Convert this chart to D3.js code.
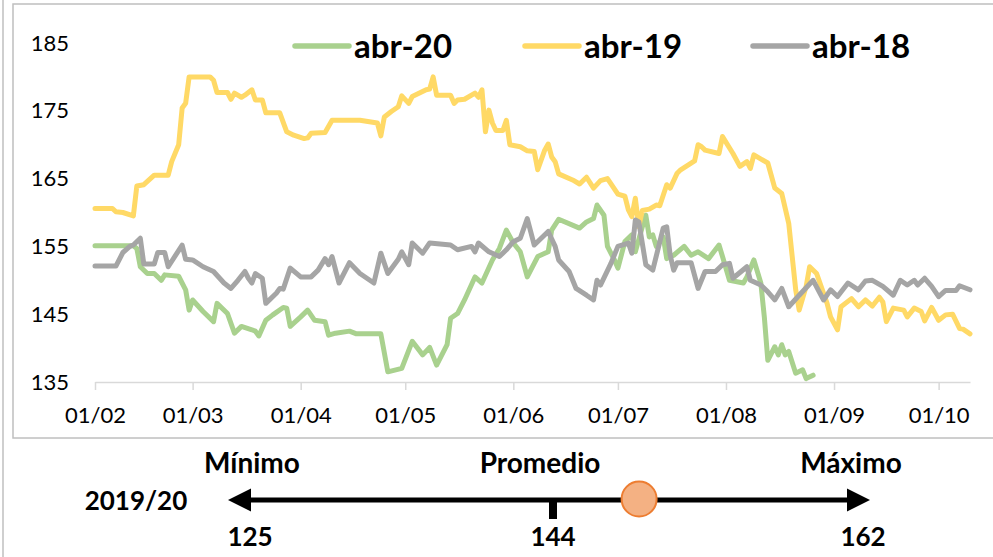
<!DOCTYPE html>
<html>
<head>
<meta charset="utf-8">
<script src="https://cdn.jsdelivr.net/npm/d3@7"></script>
<style>
  body { margin: 0; background: #fff; }
  svg { font-family: Lato, "Open Sans", sans-serif; }
</style>
</head>
<body>
<svg width="993" height="557"></svg>
<script>
// series (dates dd/mm, price)
const dates20 = ["01/02","12/02","13/02","14/02","16/02","18/02","20/02","21/02","25/02","27/02","28/02","01/03","04/03","07/03","08/03","11/03","13/03","15/03","18/03","19/03","20/03","22/03","24/03","27/03","28/03","29/03","01/04","03/04","05/04","08/04","09/04","11/04","15/04","17/04","24/04","26/04","30/04","03/05","06/05","08/05","10/05","13/05","14/05","16/05","18/05","21/05","23/05","26/05","28/05","30/05","01/06","03/06","05/06","08/06","11/06","12/06","14/06","20/06","22/06","24/06","25/06","27/06","28/06","30/06","01/07","03/07","05/07","06/07","08/07","09/07","10/07","11/07","12/07","14/07","15/07","17/07","20/07","22/07","24/07","27/07","30/07","31/07","02/08","06/08","07/08","09/08","11/08","12/08","13/08","15/08","16/08","17/08","18/08","19/08","21/08","23/08","24/08","26/08"];
const values20 = [155.1,155.1,154.7,152.0,151.0,151.0,150.0,150.8,150.6,148.6,145.6,147.1,145.4,143.9,146.6,145.1,142.2,143.2,142.7,142.5,141.8,144.1,144.9,146.0,145.9,143.2,144.6,145.6,144.1,143.9,141.9,142.2,142.5,142.1,142.1,136.5,137.0,141.0,139.0,140.1,137.5,140.5,144.4,145.1,147.1,150.5,149.6,153.0,154.7,157.4,155.5,154.2,150.5,153.5,154.2,157.4,159.0,157.7,158.6,159.1,161.1,159.6,155.0,153.0,151.8,155.7,156.7,154.2,157.9,159.6,156.4,156.7,155.0,156.4,153.2,153.7,155.0,153.7,154.2,153.2,155.2,153.5,150.0,149.6,150.5,153.0,149.6,144.6,138.2,140.2,139.0,140.5,139.0,139.5,136.3,136.8,135.5,136.0];

const dates19 = ["01/02","06/02","07/02","09/02","12/02","13/02","15/02","18/02","22/02","23/02","25/02","26/02","27/02","28/02","06/03","07/03","08/03","11/03","12/03","13/03","15/03","16/03","18/03","19/03","21/03","22/03","26/03","28/03","30/03","02/04","03/04","04/04","08/04","10/04","18/04","23/04","24/04","25/04","27/04","29/04","30/04","02/05","03/05","07/05","08/05","09/05","10/05","14/05","15/05","16/05","18/05","21/05","22/05","23/05","24/05","25/05","26/05","27/05","29/05","30/05","31/05","03/06","05/06","07/06","08/06","10/06","11/06","12/06","13/06","14/06","18/06","20/06","22/06","24/06","26/06","28/06","01/07","03/07","04/07","05/07","06/07","07/07","08/07","10/07","12/07","13/07","15/07","16/07","18/07","19/07","23/07","24/07","25/07","26/07","30/07","31/07","03/08","05/08","07/08","08/08","09/08","13/08","15/08","17/08","19/08","20/08","21/08","22/08","24/08","25/08","27/08","30/08","31/08","02/09","03/09","06/09","08/09","10/09","12/09","14/09","15/09","16/09","18/09","21/09","22/09","24/09","26/09","27/09","29/09","01/10","03/10","05/10","07/10","08/10","10/10"];
const values19 = [160.6,160.6,160.1,160.0,159.5,163.9,164.1,165.5,165.5,167.5,170.0,175.4,176.1,180.0,180.0,179.5,177.7,177.7,176.7,177.6,177.0,177.3,178.1,176.6,176.6,174.7,174.7,171.9,171.4,170.9,171.0,171.7,171.8,173.6,173.6,173.2,171.3,174.1,174.9,175.6,177.2,176.1,177.1,178.1,178.2,180.0,177.3,177.3,176.1,176.6,176.7,177.6,177.0,178.1,171.9,175.1,173.2,172.1,172.1,173.6,170.0,169.7,169.1,169.0,166.3,169.2,170.1,168.2,167.5,165.7,164.8,164.2,165.2,163.6,164.7,165.0,162.7,162.4,160.4,159.4,162.1,157.9,160.3,160.5,161.1,161.0,164.1,163.6,165.8,166.3,167.6,170.0,169.7,169.2,168.7,171.2,168.7,166.8,167.5,166.5,168.5,167.3,163.6,162.8,158.4,153.5,148.6,145.6,149.1,152.0,151.0,146.6,144.6,142.7,146.1,147.3,146.1,147.1,146.2,147.5,146.8,143.9,145.9,145.6,144.6,145.9,145.4,144.0,146.0,144.1,144.9,145.0,142.9,142.8,142.1];

const dates18 = ["01/02","07/02","09/02","11/02","12/02","14/02","15/02","18/02","19/02","21/02","22/02","26/02","27/02","01/03","04/03","07/03","10/03","12/03","14/03","16/03","17/03","18/03","19/03","21/03","22/03","25/03","26/03","27/03","29/03","01/04","04/04","06/04","08/04","09/04","10/04","12/04","15/04","18/04","22/04","24/04","26/04","29/04","30/04","02/05","03/05","06/05","08/05","14/05","16/05","20/05","21/05","22/05","25/05","28/05","30/05","01/06","03/06","05/06","07/06","11/06","13/06","14/06","17/06","19/06","22/06","24/06","25/06","26/06","29/06","01/07","04/07","05/07","06/07","07/07","09/07","11/07","14/07","15/07","16/07","17/07","18/07","22/07","24/07","26/07","29/07","31/07","02/08","03/08","07/08","08/08","11/08","13/08","15/08","17/08","19/08","22/08","26/08","29/08","31/08","02/09","05/09","08/09","10/09","12/09","15/09","18/09","20/09","22/09","24/09","25/09","27/09","29/09","01/10","03/10","06/10","07/10","10/10"];
const values18 = [152.1,152.1,154.1,155.0,155.2,156.2,152.4,152.4,154.1,154.1,152.0,155.2,153.1,153.0,152.0,151.3,149.6,148.8,150.0,151.3,150.3,149.6,151.0,150.3,146.6,148.1,148.8,148.7,151.8,150.5,150.5,151.5,153.2,152.3,153.5,149.6,152.6,151.0,149.6,154.0,151.0,153.1,154.2,152.3,155.5,154.0,155.5,155.2,154.5,155.0,154.2,155.5,154.2,153.5,154.5,155.7,156.2,159.1,155.2,157.2,155.0,153.0,151.3,148.8,147.8,147.1,150.0,149.3,152.5,155.0,155.5,154.0,158.9,158.6,152.3,151.5,157.7,157.9,153.7,151.5,152.6,152.6,148.8,151.3,151.3,152.3,152.5,150.3,152.0,150.0,149.3,148.3,147.1,148.8,146.1,147.8,150.0,147.1,148.6,147.6,149.6,148.6,149.9,150.0,149.1,147.8,150.0,149.3,150.0,149.3,150.3,149.1,147.6,148.5,148.5,149.2,148.6];

const seriesNames = ["abr-20", "abr-19", "abr-18"];
const seriesColors = ["#A9D18E", "#FFD966", "#A5A5A5"];
const yTicks = [135, 145, 155, 165, 175, 185];
const xTicks = ["01/02","01/03","01/04","01/05","01/06","01/07","01/08","01/09","01/10"];

// price position bar
const barLabels = ["Mínimo", "Promedio", "Máximo"];
const barValues = [125, 144, 162];
const currentValue = 149;
const seasonLabel = "2019/20";

const svg = d3.select("svg");
const parse = s => d3.timeParse("%d/%m/%Y")(s + "/2019");

// outer frames
svg.append("line").attr("x1", 3).attr("x2", 3).attr("y1", 0).attr("y2", 557)
  .attr("stroke", "#BFBFBF").attr("stroke-width", 1.5);
svg.append("rect").attr("x", 13).attr("y", 4).attr("width", 1000).attr("height", 434)
  .attr("fill", "none").attr("stroke", "#BFBFBF").attr("stroke-width", 1.5);

const x = d3.scaleTime()
  .domain([parse("01/02"), parse("10/10")])
  .range([95, 970]);
const y = d3.scaleLinear().domain([135, 185]).range([382, 43]);

// x axis
const xAxis = svg.append("g")
  .attr("transform", "translate(0,382)")
  .call(d3.axisBottom(x)
    .tickValues(xTicks.map(parse))
    .tickFormat(d3.timeFormat("%d/%m"))
    .tickSize(8).tickSizeOuter(0).tickPadding(17));
xAxis.select(".domain").attr("stroke", "#D9D9D9").attr("stroke-width", 1.5);
xAxis.selectAll(".tick line").attr("stroke", "#D9D9D9").attr("stroke-width", 1.5);
xAxis.selectAll("text").attr("font-size", 22).attr("fill", "#000")
  .attr("font-family", "Lato, sans-serif");

// y axis
const yAxis = svg.append("g")
  .attr("transform", "translate(95,0)")
  .call(d3.axisLeft(y).tickValues(yTicks).tickSize(0).tickPadding(26));
yAxis.select(".domain").remove();
yAxis.selectAll("text").attr("font-size", 22).attr("fill", "#000")
  .attr("font-family", "Lato, sans-serif");

// lines
const allSeries = [
  dates20.map((d, i) => ({date: parse(d), value: values20[i]})),
  dates19.map((d, i) => ({date: parse(d), value: values19[i]})),
  dates18.map((d, i) => ({date: parse(d), value: values18[i]}))
];
const line = d3.line().x(d => x(d.date)).y(d => y(d.value));

svg.append("g").selectAll("path")
  .data(allSeries)
  .join("path")
    .attr("d", line)
    .attr("fill", "none")
    .attr("stroke", (d, i) => seriesColors[i])
    .attr("stroke-width", 5)
    .attr("stroke-linejoin", "round")
    .attr("stroke-linecap", "round");

// legend
const legendX = [295, 525, 753];
const legend = svg.append("g").selectAll("g")
  .data(seriesNames)
  .join("g")
    .attr("transform", (d, i) => `translate(${legendX[i]},0)`);
legend.append("line")
  .attr("x1", 0).attr("x2", 54).attr("y1", 46).attr("y2", 46)
  .attr("stroke", (d, i) => seriesColors[i])
  .attr("stroke-width", 5.5).attr("stroke-linecap", "round");
legend.append("text")
  .attr("x", 59).attr("y", 58)
  .attr("font-size", 33).attr("font-weight", "bold")
  .text(d => d);

// bottom bar
const bx = d3.scaleLinear().domain(barValues).range([250, 553, 863]);
const barY = 500;
const left = bx(barValues[0]) - 22, right = bx(barValues[2]) + 7;

svg.append("line")
  .attr("x1", left + 12).attr("x2", right - 12)
  .attr("y1", barY).attr("y2", barY)
  .attr("stroke", "#000").attr("stroke-width", 5);
svg.append("path")
  .attr("d", `M${left},${barY} L${left + 23},${barY - 11.5} L${left + 23},${barY + 11.5} Z`)
  .attr("fill", "#000");
svg.append("path")
  .attr("d", `M${right},${barY} L${right - 23},${barY - 11.5} L${right - 23},${barY + 11.5} Z`)
  .attr("fill", "#000");
svg.append("rect")
  .attr("x", bx(barValues[1]) - 4).attr("y", barY)
  .attr("width", 8).attr("height", 19)
  .attr("fill", "#000");

svg.append("g").selectAll("text")
  .data(barLabels)
  .join("text")
    .attr("x", (d, i) => [252, 540, 851][i])
    .attr("y", 473)
    .attr("text-anchor", "middle")
    .attr("font-size", 28).attr("font-weight", "bold")
    .text(d => d);

svg.append("g").selectAll("text")
  .data(barValues)
  .join("text")
    .attr("x", d => bx(d))
    .attr("y", 546)
    .attr("text-anchor", "middle")
    .attr("font-size", 26).attr("font-weight", "bold")
    .text(d => d);

svg.append("text")
  .attr("x", 136).attr("y", 510)
  .attr("text-anchor", "middle")
  .attr("font-size", 26).attr("font-weight", "bold")
  .text(seasonLabel);

svg.append("circle")
  .attr("cx", bx(currentValue)).attr("cy", barY - 1)
  .attr("r", 17.5)
  .attr("fill", "#F4B183")
  .attr("stroke", "#ED7D31").attr("stroke-width", 2);
</script>
</body>
</html>
